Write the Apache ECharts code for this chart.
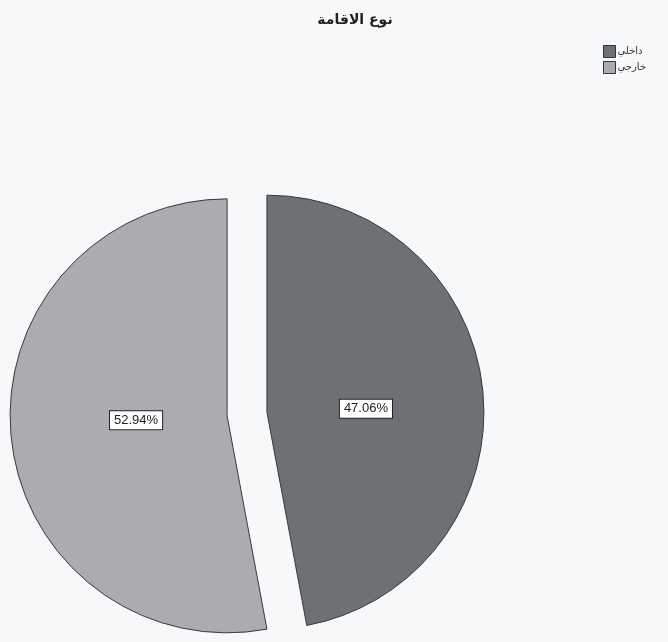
<!DOCTYPE html>
<html>
<head>
<meta charset="utf-8">
<script src="https://cdn.jsdelivr.net/npm/echarts@6/dist/echarts.min.js"></script>
<style>
  html, body { margin: 0; padding: 0; background: #f6f8fa; }
  #chart { width: 668px; height: 642px; }
</style>
</head>
<body>
<div id="chart"></div>
<script>
// Residence type share (percent)
const categories = ['داخلي', 'خارجي'];
const percents = [47.06, 52.94];
const sliceColors = ['#6d7074', '#aaacaf'];
// nudges for the inside value boxes
const labelNudges = [[-12, 7], [20, -6]];

const chart = echarts.init(document.getElementById('chart'), null, { renderer: 'canvas' });

chart.setOption({
  backgroundColor: '#f6f8fa',
  animation: false,
  title: {
    text: 'نوع الاقامة',
    left: 350,
    top: 8,
    textAlign: 'center',
    textStyle: { fontFamily: 'DejaVu Sans', fontSize: 14, fontWeight: 'bold', color: '#222' }
  },
  legend: {
    orient: 'vertical',
    left: 598,
    top: 40,
    icon: 'rect',
    itemWidth: 12,
    itemHeight: 12,
    itemGap: 3,
    selectedMode: false,
    data: categories,
    textStyle: { fontFamily: 'DejaVu Sans', fontSize: 10, color: '#333', padding: [0, 0, 0, -3] },
    itemStyle: { borderColor: '#333', borderWidth: 1 }
  },
  series: [{
    type: 'pie',
    center: [247, 414],
    radius: 217,
    startAngle: 90,
    clockwise: true,
    selectedMode: 'multiple',
    selectedOffset: 20,
    emphasis: { disabled: true },
    itemStyle: { borderColor: '#3a3a3a', borderWidth: 1 },
    label: {
      position: 'inside',
      formatter: p => p.value.toFixed(2) + '%',
      fontFamily: 'Liberation Sans Narrow, Liberation Sans, sans-serif',
      fontSize: 13,
      color: '#222',
      backgroundColor: '#ffffff',
      borderColor: '#222',
      borderWidth: 1,
      padding: [3, 4, 2, 4]
    },
    labelLayout: p => ({ dx: labelNudges[p.dataIndex][0], dy: labelNudges[p.dataIndex][1] }),
    labelLine: { show: false },
    data: categories.map((name, i) => ({
      name: name,
      value: percents[i],
      selected: true,
      itemStyle: { color: sliceColors[i] }
    }))
  }]
});
</script>
</body>
</html>
